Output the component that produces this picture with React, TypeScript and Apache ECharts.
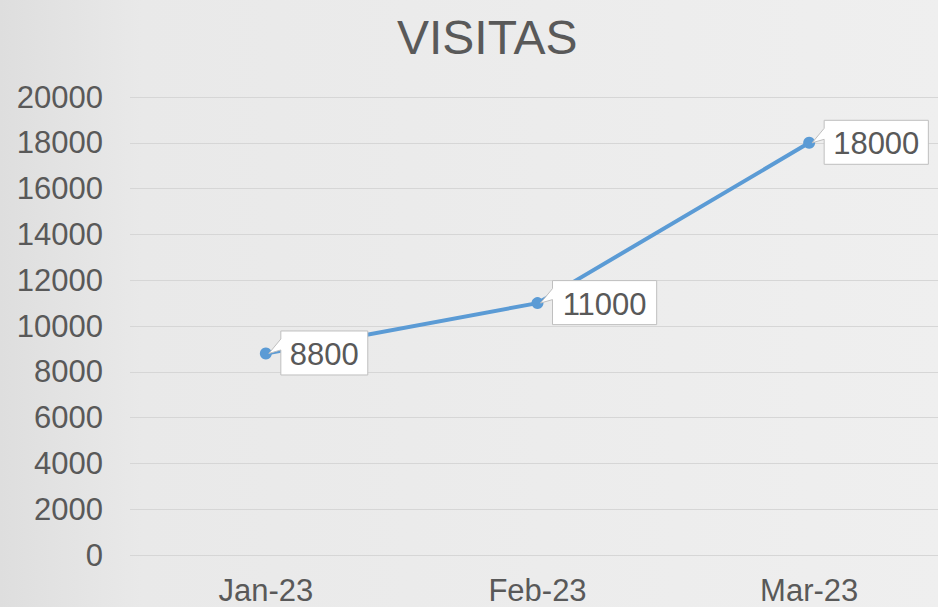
import React, { useEffect, useRef } from "react";
import * as echarts from "echarts";

const categories = ["Jan-23", "Feb-23", "Mar-23"];
const visitas = [8800, 11000, 18000];
const yTicks = { min: 0, max: 20000, interval: 2000 };
const titleText = "VISITAS";

const FONT = "'Liberation Sans', Arial, sans-serif";
const TEXT_COLOR = "#595959";

export default function App() {
  const ref = useRef<HTMLDivElement>(null);
  useEffect(() => {
    if (!ref.current) return;
    const chart = echarts.init(ref.current, null, { renderer: "svg" });
    const labelFont = 31;
    const option: any = {
      animation: false,
      backgroundColor: {
        type: "linear",
        x: 0,
        y: 0,
        x2: 1,
        y2: 0,
        colorStops: [
          { offset: 0, color: "#dedede" },
          { offset: 0.15, color: "#e9e9e9" },
          { offset: 1, color: "#efefef" },
        ],
      },
      title: {
        text: titleText,
        left: 392,
        top: 8,
        textStyle: { fontFamily: FONT, fontSize: 48, fontWeight: "normal", color: TEXT_COLOR },
      },
      grid: { left: 130, top: 97, right: 0, bottom: 52, containLabel: false },
      xAxis: {
        type: "category",
        data: categories,
        boundaryGap: true,
        axisLine: { show: false },
        axisTick: { show: false },
        axisLabel: { fontFamily: FONT, fontSize: 31, lineHeight: 26, color: TEXT_COLOR, margin: 22 },
        splitLine: { show: false },
      },
      yAxis: {
        type: "value",
        min: yTicks.min,
        max: yTicks.max,
        interval: yTicks.interval,
        axisLine: { show: false },
        axisTick: { show: false },
        axisLabel: {
          fontFamily: FONT,
          fontSize: 31,
          color: TEXT_COLOR,
          margin: 27,
          formatter: (v: number) => String(v),
        },
        splitLine: { lineStyle: { color: "#d6d6d6", width: 1 } },
      },
      series: [
        {
          type: "line",
          data: visitas,
          symbol: "circle",
          symbolSize: 12,
          lineStyle: { color: "#5B9BD5", width: 4 },
          itemStyle: { color: "#5B9BD5" },
          z: 2,
        },
        {
          type: "custom",
          z: 5,
          data: visitas.map((v, i) => [i, v]),
          renderItem: (params: any, api: any) => {
            const p = api.coord([api.value(0), api.value(1)]);
            const txt = String(api.value(1));
            const px = p[0];
            const py = p[1];
            const w = txt.length * 0.556 * labelFont + 18;
            const h = 44;
            const L = px + 15;
            const T = py - 22.5;
            const R = L + w;
            const B = T + h;
            return {
              type: "group",
              children: [
                {
                  type: "polygon",
                  shape: {
                    points: [
                      [L, T],
                      [R, T],
                      [R, B],
                      [L, B],
                      [L, T + 19],
                      [px + 3, py],
                      [L, T + 8],
                    ],
                  },
                  style: { fill: "#ffffff", stroke: "#bfbfbf", lineWidth: 1 },
                },
                {
                  type: "text",
                  x: L + w / 2,
                  y: py + 1,
                  style: {
                    text: txt,
                    fontFamily: FONT,
                    fontSize: labelFont,
                    fill: TEXT_COLOR,
                    align: "center",
                    verticalAlign: "middle",
                  },
                },
              ],
            };
          },
        },
      ],
    };
    chart.setOption(option);
    return () => chart.dispose();
  }, []);
  return (
    <div style={{ position: "fixed", left: 0, top: 0, width: 938, height: 607, overflow: "hidden" }}>
      <div ref={ref} style={{ width: 945, height: 607 }} />
    </div>
  );
}
